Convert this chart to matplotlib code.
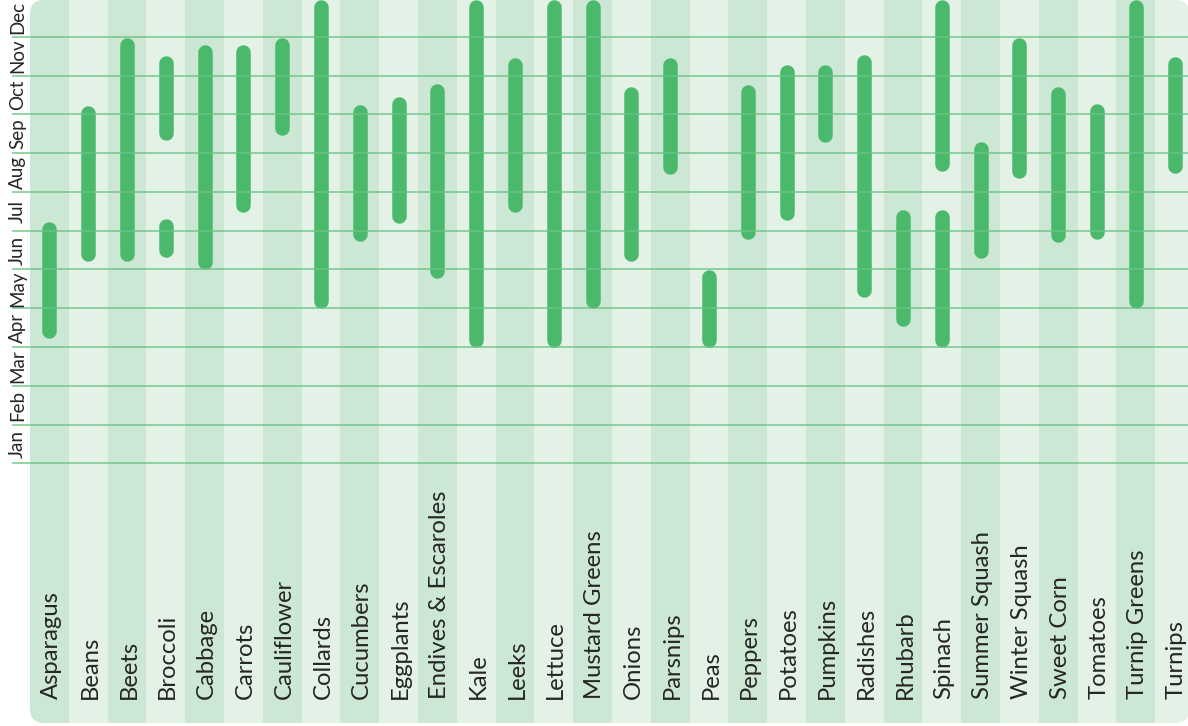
import matplotlib
matplotlib.use("Agg")
import matplotlib.pyplot as plt
from matplotlib.patches import FancyBboxPatch, Rectangle

# ---- data -------------------------------------------------------------
months = ["Jan", "Feb", "Mar", "Apr", "May", "Jun",
          "Jul", "Aug", "Sep", "Oct", "Nov", "Dec"]

vegetables = ["Asparagus", "Beans", "Beets", "Broccoli", "Cabbage", "Carrots",
              "Cauliflower", "Collards", "Cucumbers", "Eggplants",
              "Endives & Escaroles", "Kale", "Leeks", "Lettuce", "Mustard Greens",
              "Onions", "Parsnips", "Peas", "Peppers", "Potatoes", "Pumpkins",
              "Radishes", "Rhubarb", "Spinach", "Summer Squash", "Winter Squash",
              "Sweet Corn", "Tomatoes", "Turnip Greens", "Turnips"]

# season in fractional months (0 = start of Jan, 12 = end of Dec)
season_start = [3.22, 5.22, 5.22, 8.33, 5.01, 6.47, 8.47, 4.00, 5.72, 6.20,
                4.78, 2.99, 6.47, 2.99, 4.00, 5.20, 7.45, 2.99, 5.78, 6.28,
                8.29, 4.27, 3.53, 7.53, 5.29, 7.36, 5.69, 5.78, 4.00, 7.49]
season_end = [6.23, 9.21, 10.98, 10.50, 10.79, 10.79, 10.98, 11.95, 9.24, 9.45,
              9.78, 11.95, 10.47, 11.95, 11.95, 9.70, 10.45, 5.00, 9.77, 10.29,
              10.29, 10.54, 6.53, 11.95, 8.29, 10.98, 9.70, 9.28, 11.95, 10.49]

# second season for vegetables with two harvest windows
second_veg = ["Broccoli", "Spinach"]
second_start = [5.31, 2.99]
second_end = [6.30, 6.53]

# ---- style ------------------------------------------------------------
W, H, DPI = 1188, 726, 100
BAR = "#4ab96b"
COL_DARK = "#cce7d3"
COL_LIGHT = "#e3f1e6"
LINE = "#6cc487"
TEXT = "#262626"
FONT = ["Lato", "DejaVu Sans"]

px_per_x = 38.8
px_per_y = 38.78
x0_px = 49.4      # pixel x of first column centre
y0_px = 463.3     # pixel y (from top) of month value 0

xlim = (-x0_px / px_per_x, (W - x0_px) / px_per_x)
ylim = ((y0_px - H) / px_per_y, y0_px / px_per_y)

fig = plt.figure(figsize=(W / DPI, H / DPI), dpi=DPI)
fig.patch.set_facecolor("white")
ax = fig.add_axes([0, 0, 1, 1])
ax.set_xlim(*xlim)
ax.set_ylim(*ylim)
ax.axis("off")

n = len(vegetables)

# background with rounded corners
bg_bottom = (y0_px - 723) / px_per_y
bg_top = ylim[1]
bg_right = (1189.5 - x0_px) / px_per_x
clip = FancyBboxPatch((-0.5, bg_bottom), bg_right + 0.5, bg_top - bg_bottom,
                      boxstyle="round,pad=0,rounding_size=0.37",
                      transform=ax.transData, facecolor="none", edgecolor="none")
for i in range(n):
    r = Rectangle((i - 0.5, bg_bottom), 1, bg_top - bg_bottom + 1,
                  facecolor=COL_DARK if i % 2 == 0 else COL_LIGHT,
                  edgecolor="none", zorder=1)
    ax.add_patch(r)
    r.set_clip_path(clip)

# horizontal month lines
line_left = (12 - x0_px) / px_per_x
ax.hlines(range(len(months)), line_left, xlim[1], color=LINE, lw=1.2,
          alpha=0.85, zorder=4)

# season bars (round capped)
bar_px = 14.5
bar_pt = bar_px * 72 / DPI
cap = (bar_px / 2) / px_per_y


def draw_bar(x, s, e):
    ax.plot([x, x], [s + cap, e - cap], color=BAR, lw=bar_pt,
            solid_capstyle="round", zorder=3)


for i, (s, e) in enumerate(zip(season_start, season_end)):
    draw_bar(i, s, e)
for name, s, e in zip(second_veg, second_start, second_end):
    draw_bar(vegetables.index(name), s, e)

# month labels
month_x = (17.5 - x0_px) / px_per_x
for m, name in enumerate(months):
    ax.text(month_x, m + 0.5, name, rotation=90, ha="center", va="center",
            fontsize=13.5, color=TEXT, family=FONT, zorder=5)

# vegetable labels
label_y = (y0_px - 699) / px_per_y
for i, name in enumerate(vegetables):
    ax.text(i + 0.05, label_y, name, rotation=90, ha="center", va="bottom",
            fontsize=17.2, color=TEXT, family=FONT, zorder=5)

fig.savefig("out.png", dpi=DPI, facecolor="white")
